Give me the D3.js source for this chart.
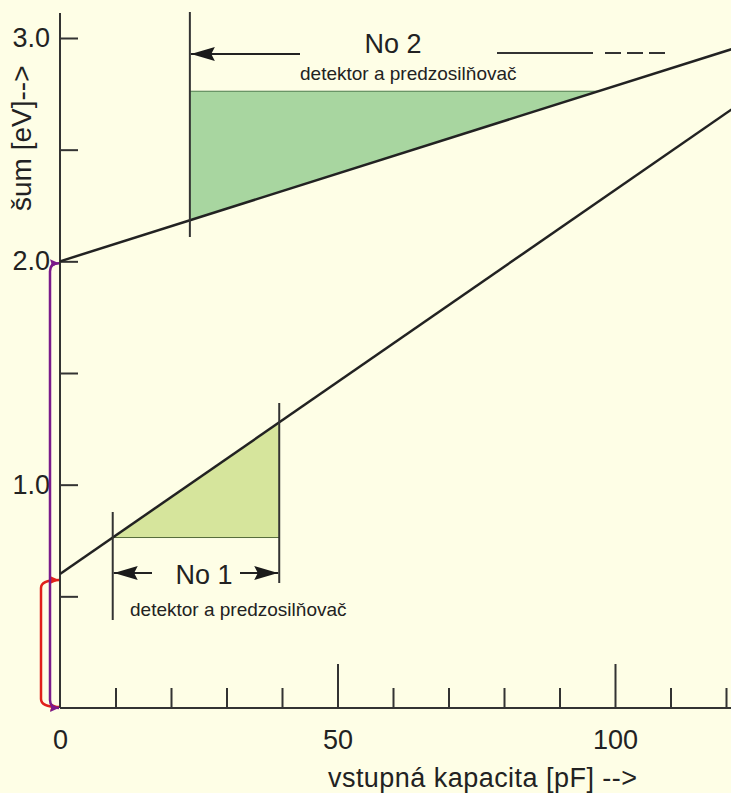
<!DOCTYPE html>
<html>
<head>
<meta charset="utf-8">
<script src="https://cdn.jsdelivr.net/npm/d3@7"></script>
<style>
  body { margin: 0; background: #fefee6; }
  svg { display: block; }
  text { font-family: "Liberation Sans", Arial, sans-serif; fill: #222; }
</style>
</head>
<body>
<script>
// values
const xMinorTicks = [0, 10, 20, 30, 40, 50, 60, 70, 80, 90, 100, 110, 120];
const xMajorTicks = [0, 50, 100];
const yTicks = [0.5, 1.0, 1.5, 2.0, 2.5, 3.0];
const yLabels = [1.0, 2.0, 3.0];

// noise lines: [capacity pF, noise eV]
const lineNo1 = [[0, 0.6], [121, 2.68]];
const lineNo2 = [[0, 2.0], [121, 2.95]];

// shaded ranges
const rangeNo1 = [9.5, 39.5];
const rangeNo2 = [23.4, 97];
const labelNo = ["No 1", "No 2"];
const labelSub = "detektor a predzosilňovač";

const width = 731, height = 793;

const svg = d3.select('body').append('svg')
    .attr('width', width)
    .attr('height', height);

const x = d3.scaleLinear().domain([0, 120]).range([60, 726]);
const y = d3.scaleLinear().domain([0, 3]).range([708, 38]);

// value of a line at capacity c
const at = (ln, c) => ln[0][1] + (ln[1][1] - ln[0][1]) * (c - ln[0][0]) / (ln[1][0] - ln[0][0]);

// arrow head marker
const defs = svg.append('defs');
function marker(id, color, w, h) {
    defs.append('marker')
        .attr('id', id)
        .attr('viewBox', `0 0 ${w} ${h}`)
        .attr('refX', w).attr('refY', h / 2)
        .attr('markerWidth', w).attr('markerHeight', h)
        .attr('markerUnits', 'userSpaceOnUse')
        .attr('orient', 'auto')
        .append('path')
        .attr('d', `M0,0L${w},${h / 2}L0,${h}L${w * 0.15},${h / 2}Z`)
        .attr('fill', color);
}
marker('arrBlack', '#1a1a1a', 24, 14);
marker('arrPurple', '#7a1a8a', 9, 8);
marker('arrRed', '#e0201a', 9, 8);

// shaded regions
const c1 = rangeNo1[0], c2 = rangeNo1[1];
svg.append('path')
    .attr('d', d3.line()([
        [x(c1), y(at(lineNo1, c1))],
        [x(c2), y(at(lineNo1, c2))],
        [x(c2), y(at(lineNo1, c1))]
    ]) + 'Z')
    .attr('fill', '#d6e59c');
svg.append('line')
    .attr('x1', x(c1)).attr('x2', x(c2))
    .attr('y1', y(at(lineNo1, c1))).attr('y2', y(at(lineNo1, c1)))
    .attr('stroke', '#556b3a').attr('stroke-width', 1);

const d1 = rangeNo2[0], d2 = rangeNo2[1];
const top2 = at(lineNo2, d2);
svg.append('path')
    .attr('d', d3.line()([
        [x(d1), y(at(lineNo2, d1))],
        [x(d1), y(top2)],
        [x(d2), y(top2)]
    ]) + 'Z')
    .attr('fill', '#a8d6a0');
svg.append('line')
    .attr('x1', x(d1)).attr('x2', x(d2))
    .attr('y1', y(top2)).attr('y2', y(top2))
    .attr('stroke', '#4d7a4d').attr('stroke-width', 1);

// axes
const xAxis = d3.axisBottom(x)
    .tickValues(xMinorTicks)
    .tickSize(-20)
    .tickPadding(22)
    .tickFormat(d => xMajorTicks.includes(d) ? d : '');
const gx = svg.append('g')
    .attr('transform', `translate(0,${y(0)})`)
    .call(xAxis);
gx.select('.domain').remove();
gx.selectAll('.tick line')
    .attr('stroke', '#333').attr('stroke-width', 2)
    .attr('y2', d => xMajorTicks.includes(d) ? -44 : -20);
gx.selectAll('.tick').filter(d => d === 0).select('line').remove();
gx.selectAll('text')
    .style('font-size', '27px')
    .attr('fill', '#222')
    .attr('font-family', null);
svg.append('line')
    .attr('x1', x(0)).attr('x2', width)
    .attr('y1', y(0)).attr('y2', y(0))
    .attr('stroke', '#333').attr('stroke-width', 2);

const yAxis = d3.axisLeft(y)
    .tickValues(yTicks)
    .tickSize(-18)
    .tickPadding(10)
    .tickFormat(d => yLabels.includes(d) ? d.toFixed(1) : '');
const gy = svg.append('g')
    .attr('transform', `translate(${x(0)},0)`)
    .call(yAxis);
gy.select('.domain').remove();
gy.selectAll('.tick line').attr('stroke', '#333').attr('stroke-width', 2);
gy.selectAll('text')
    .style('font-size', '27px')
    .attr('fill', '#222')
    .attr('font-family', null);
svg.append('line')
    .attr('x1', x(0)).attr('x2', x(0))
    .attr('y1', 13).attr('y2', y(0))
    .attr('stroke', '#333').attr('stroke-width', 2);

// axis titles
svg.append('text')
    .attr('x', 328).attr('y', 787)
    .style('font-size', '27px')
    .attr('textLength', 309)
    .attr('lengthAdjust', 'spacing')
    .text('vstupná kapacita [pF] -->');

svg.append('text')
    .attr('transform', 'translate(31,211) rotate(-90)')
    .style('font-size', '28px')
    .text('šum [eV]-->');

// noise lines
const lineGen = d3.line().x(d => x(d[0])).y(d => y(d[1]));
[lineNo1, lineNo2].forEach(ln => {
    svg.append('path')
        .attr('d', lineGen(ln))
        .attr('fill', 'none')
        .attr('stroke', '#222')
        .attr('stroke-width', 2.5);
});

// No 1 markers
svg.append('line')
    .attr('x1', x(c1)).attr('x2', x(c1)).attr('y1', 512).attr('y2', 620)
    .attr('stroke', '#333').attr('stroke-width', 2);
svg.append('line')
    .attr('x1', x(c2)).attr('x2', x(c2)).attr('y1', 403).attr('y2', 583)
    .attr('stroke', '#333').attr('stroke-width', 2);
svg.append('line')
    .attr('x1', 152).attr('x2', x(c1) + 1).attr('y1', 573).attr('y2', 573)
    .attr('stroke', '#222').attr('stroke-width', 2)
    .attr('marker-end', 'url(#arrBlack)');
svg.append('line')
    .attr('x1', 240).attr('x2', x(c2) - 1).attr('y1', 573).attr('y2', 573)
    .attr('stroke', '#222').attr('stroke-width', 2)
    .attr('marker-end', 'url(#arrBlack)');
svg.append('text')
    .attr('x', 204).attr('y', 584)
    .attr('text-anchor', 'middle')
    .style('font-size', '27px')
    .text(labelNo[0]);
svg.append('text')
    .attr('x', 130).attr('y', 616)
    .style('font-size', '19px')
    .text(labelSub);

// No 2 markers
svg.append('line')
    .attr('x1', x(d1)).attr('x2', x(d1)).attr('y1', 12).attr('y2', 237)
    .attr('stroke', '#333').attr('stroke-width', 2);
svg.append('line')
    .attr('x1', 300).attr('x2', x(d1) + 1).attr('y1', 54).attr('y2', 54)
    .attr('stroke', '#222').attr('stroke-width', 2)
    .attr('marker-end', 'url(#arrBlack)');
svg.append('line')
    .attr('x1', 497).attr('x2', 593).attr('y1', 53).attr('y2', 53)
    .attr('stroke', '#333').attr('stroke-width', 2);
svg.append('line')
    .attr('x1', 605).attr('x2', 667).attr('y1', 53).attr('y2', 53)
    .attr('stroke', '#333').attr('stroke-width', 2)
    .attr('stroke-dasharray', '16,6');
svg.append('text')
    .attr('x', 393).attr('y', 53)
    .attr('text-anchor', 'middle')
    .style('font-size', '27px')
    .text(labelNo[1]);
svg.append('text')
    .attr('x', 300).attr('y', 80)
    .style('font-size', '19px')
    .text(labelSub);

// brackets down to the axis
function bracket(xb, yTop, yBot, color, id) {
    const xa = x(0) - 1, r = 8;
    svg.append('path')
        .attr('d', `M${xa},${yTop}Q${xb},${yTop} ${xb},${yTop + r}L${xb},${yBot - r}Q${xb},${yBot} ${xa},${yBot}`)
        .attr('fill', 'none')
        .attr('stroke', color)
        .attr('stroke-width', 2.5);
    // arrow heads at both ends
    [yTop, yBot].forEach(yy => {
        svg.append('line')
            .attr('x1', xa - 4).attr('x2', xa).attr('y1', yy).attr('y2', yy)
            .attr('stroke', color).attr('stroke-width', 1)
            .attr('marker-end', `url(#${id})`);
    });
}
bracket(41, y(at(lineNo1, 0)) + 6, y(0) - 1, '#e0201a', 'arrRed');
bracket(50, y(at(lineNo2, 0)) + 2, y(0), '#7a1a8a', 'arrPurple');
</script>
</body>
</html>
